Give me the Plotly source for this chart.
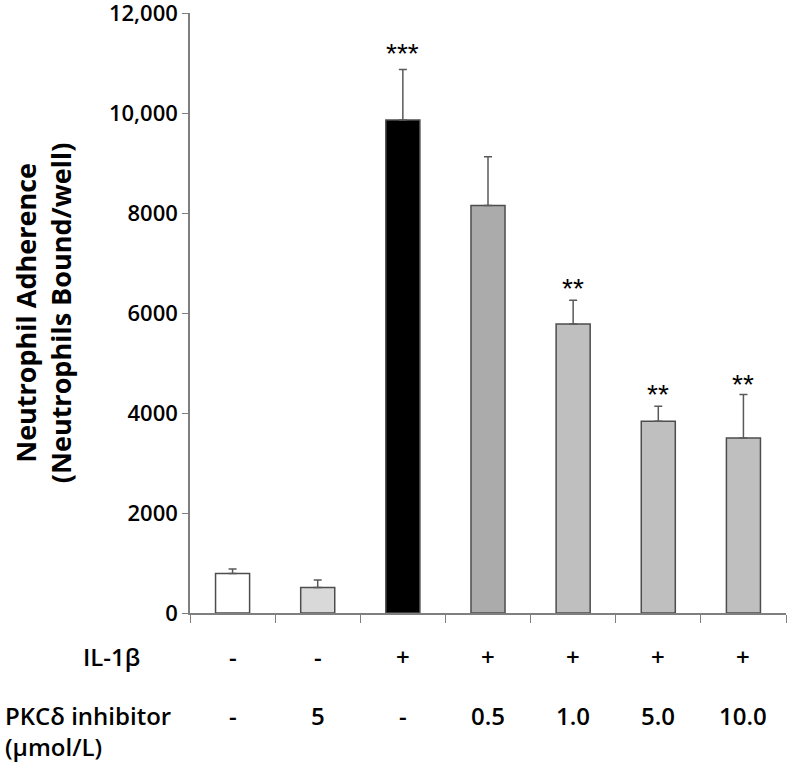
import plotly.graph_objects as go

# values
groups = [0, 1, 2, 3, 4, 5, 6]
adherence = [790, 510, 9860, 8150, 5780, 3835, 3500]
sem = [90, 150, 1010, 975, 475, 300, 870]
stars = ["", "", "***", "", "**", "**", "**"]
star_y = [0, 0, 11190, 0, 6500, 4380, 4580]
il1b = ["-", "-", "+", "+", "+", "+", "+"]
pkc = ["-", "5", "-", "0.5", "1.0", "5.0", "10.0"]
bar_colors = ["#ffffff", "#d9d9d9", "#000000", "#ababab", "#bfbfbf", "#bfbfbf", "#bfbfbf"]
y_ticks = [0, 2000, 4000, 6000, 8000, 10000, 12000]
y_ticktext = ["0", "2000", "4000", "6000", "8000", "10,000", "12,000"]

FONT = "Open Sans"

fig = go.Figure()

fig.add_trace(
    go.Bar(
        x=groups,
        y=adherence,
        width=0.4,
        marker=dict(color=bar_colors, line=dict(color="#4d4d4d", width=1.5)),
        error_y=dict(
            type="data",
            array=sem,
            arrayminus=[0] * len(sem),
            symmetric=False,
            color="#595959",
            thickness=1.5,
            width=4,
        ),
        showlegend=False,
    )
)

# significance stars
for g, s, sy in zip(groups, stars, star_y):
    if s:
        fig.add_annotation(
            x=g, y=sy, xref="x", yref="y", text=s, showarrow=False,
            font=dict(family="Liberation Sans", size=28, color="black"),
            yanchor="middle",
        )

# condition rows under the axis
row_font = dict(family=FONT, size=24, color="black", weight=600)
for g, a, b in zip(groups, il1b, pkc):
    fig.add_annotation(x=g, y=-0.073, xref="x", yref="paper", text=a,
                       showarrow=False, font=row_font, yanchor="middle")
    fig.add_annotation(x=g, y=-0.171, xref="x", yref="paper", text=b,
                       showarrow=False, font=row_font, yanchor="middle")

fig.add_annotation(x=-0.131, y=-0.073, xref="paper", yref="paper", text="IL-1β",
                   showarrow=False, font=row_font, xanchor="center", yanchor="middle")
fig.add_annotation(x=-0.313, y=-0.171, xref="paper", yref="paper", text="PKCδ inhibitor",
                   showarrow=False, font=row_font, xanchor="left", yanchor="middle")
fig.add_annotation(x=-0.313, y=-0.222, xref="paper", yref="paper", text="(μmol/L)",
                   showarrow=False, font=row_font, xanchor="left", yanchor="middle")

# y axis title
fig.add_annotation(
    x=-0.2464, y=0.5, xref="paper", yref="paper",
    text="Neutrophil Adherence<br>(Neutrophils Bound/well)",
    textangle=-90, showarrow=False,
    font=dict(family=FONT, size=27, color="black", weight="bold"),
    xanchor="center", yanchor="middle",
)

fig.update_xaxes(
    range=[-0.5, 6.5],
    tickvals=[i - 0.5 for i in range(8)],
    showticklabels=False,
    ticks="outside",
    ticklen=8,
    tickcolor="#7f7f7f",
    showline=True,
    linecolor="#7f7f7f",
    linewidth=1.5,
    showgrid=False,
    zeroline=False,
    automargin=False,
)

fig.update_yaxes(
    range=[0, 12000],
    tickvals=y_ticks,
    ticktext=y_ticktext,
    ticks="outside",
    ticklen=6,
    tickcolor="#7f7f7f",
    showline=True,
    linecolor="#7f7f7f",
    linewidth=1.5,
    showgrid=False,
    zeroline=False,
    automargin=False,
    ticklabeloverflow="allow",
    tickfont=dict(family=FONT, size=22, color="black", weight=600),
)

fig.update_layout(
    width=788,
    height=768,
    margin=dict(l=190, r=2, t=13, b=155),
    plot_bgcolor="white",
    paper_bgcolor="white",
)

# page body has a default 8px margin; drop it so the figure fills the window
fig.write_html(
    "out.html",
    config={"displayModeBar": False},
    post_script="document.body.style.margin='0';",
)
